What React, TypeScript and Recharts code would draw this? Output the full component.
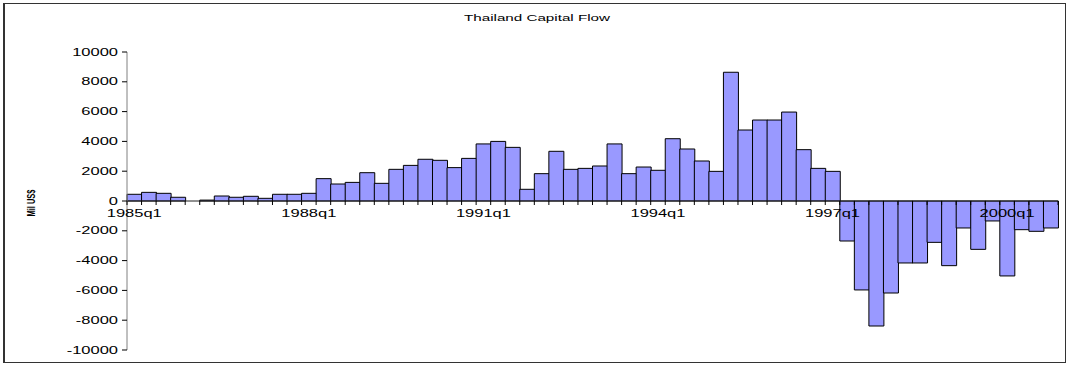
import React from 'react';
import { BarChart, Bar, XAxis, YAxis, ReferenceLine } from 'recharts';

// quarterly capital flow, millions of US$
const years = [1985, 1986, 1987, 1988, 1989, 1990, 1991, 1992, 1993, 1994, 1995, 1996, 1997, 1998, 1999, 2000];
const quarters = years.flatMap((y) => [1, 2, 3, 4].map((q) => `${y}q${q}`));

const flows = [
    450, 580, 515, 250,
    0, 60, 335, 250,
    315, 180, 450, 450,
    515, 1500, 1140, 1250,
    1900, 1185, 2125, 2390,
    2800, 2730, 2240, 2860,
    3830, 4000, 3600, 785,
    1835, 3335, 2125, 2190,
    2350, 3830, 1835, 2280,
    2060, 4180, 3490, 2685,
    1990, 8640, 4765, 5435,
    5435, 5970, 3445, 2190,
    1990, -2685, -5970, -8390,
    -6175, -4160, -4160, -2775,
    -4340, -1810, -3245, -1340,
    -5030, -1925, -2035, -1810,
];

const yTicks = [-10000, -8000, -6000, -4000, -2000, 0, 2000, 4000, 6000, 8000, 10000];
const labelEvery = 12;

const data = quarters.map((q, i) => ({ q, flow: flows[i] }));

const W = 1072;
const H = 367;
const MARGIN = { top: 52, right: 14, bottom: 0, left: 0 };
const Y_AXIS_W = 127;
const X_AXIS_H = 17;
const PLOT_H = H - MARGIN.top - MARGIN.bottom - X_AXIS_H;
const PLOT_W = W - MARGIN.left - MARGIN.right - Y_AXIS_W;
const FONT = '"Liberation Sans", Arial, sans-serif';
const STRETCH = 1.65;

function YTick({ x, y, payload }: any) {
    return (
        <g transform={`translate(${x},${y}) scale(${STRETCH},1)`}>
            <text x={0} y={0} dy="0.35em" textAnchor="end" fontSize={10} fontFamily={FONT} fill="#000">
                {payload.value}
            </text>
        </g>
    );
}

// x axis sits on the zero line, so shift the ticks up by half the plot (domain is symmetric)
function XTick({ x, y, payload, index }: any) {
    const half = PLOT_W / quarters.length / 2;
    const zeroY = y - PLOT_H / 2;
    return (
        <g>
            <line x1={x - half} x2={x - half} y1={zeroY} y2={zeroY + 4} stroke="#000" />
            {index === quarters.length - 1 && (
                <line x1={x + half} x2={x + half} y1={zeroY} y2={zeroY + 4} stroke="#000" />
            )}
            {index % labelEvery === 0 && (
                <g transform={`translate(${x},${zeroY + 16}) scale(${STRETCH},1)`}>
                    <text x={0} y={0} textAnchor="middle" fontSize={10} fontFamily={FONT} fill="#000">
                        {payload.value}
                    </text>
                </g>
            )}
        </g>
    );
}

export default function App() {
    return (
        <div style={{ position: 'absolute', left: 0, top: 0, width: W, height: H, background: '#fff' }}>
            <style>{`body{margin:0}`}</style>
            <div
                style={{
                    position: 'absolute',
                    left: 3,
                    top: 3,
                    width: 1063,
                    height: 360,
                    borderLeft: '2px solid #333',
                    borderTop: '1px solid #333',
                    borderRight: '1px solid #333',
                    borderBottom: '1px solid #333',
                    boxSizing: 'border-box',
                }}
            />
            <svg width={W} height={30} style={{ position: 'absolute', left: 0, top: 0 }}>
                <g transform={`translate(537,21) scale(1.6,1)`}>
                    <text textAnchor="middle" fontSize={9.5} fontFamily={FONT} fill="#000">
                        Thailand Capital Flow
                    </text>
                </g>
            </svg>
            <svg width={60} height={H} style={{ position: 'absolute', left: 0, top: 0 }}>
                <text
                    transform="translate(35,203) rotate(-90)"
                    textAnchor="middle"
                    fontSize={10}
                    fontWeight="bold"
                    fontFamily={FONT}
                    textLength={27}
                    lengthAdjust="spacingAndGlyphs"
                    fill="#000"
                >
                    Mil US$
                </text>
            </svg>
            <div style={{ position: 'absolute', left: 0, top: 0 }}>
                <BarChart width={W} height={H} data={data} margin={MARGIN} barCategoryGap={0}>
                    <YAxis
                        width={Y_AXIS_W}
                        domain={[-10000, 10000]}
                        ticks={yTicks}
                        interval={0}
                        allowDataOverflow
                        tickSize={5}
                        tickMargin={4}
                        tickLine={{ stroke: '#000' }}
                        axisLine={{ stroke: '#808080' }}
                        tick={<YTick />}
                    />
                    <Bar dataKey="flow" fill="#9999FF" stroke="#000" strokeWidth={1} isAnimationActive={false} />
                    <ReferenceLine y={0} stroke="#222" strokeWidth={1} />
                    <XAxis
                        dataKey="q"
                        height={X_AXIS_H}
                        interval={0}
                        tickSize={0}
                        tickMargin={0}
                        tickLine={false}
                        axisLine={false}
                        tick={<XTick />}
                    />
                </BarChart>
            </div>
        </div>
    );
}
